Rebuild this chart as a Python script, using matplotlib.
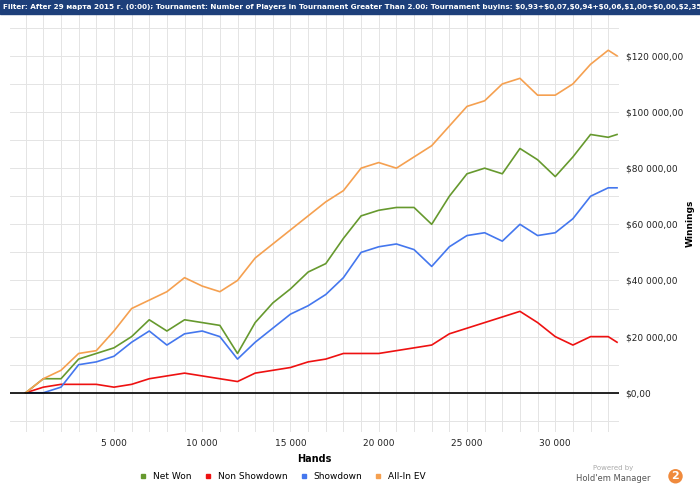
import matplotlib
matplotlib.use("Agg")
import matplotlib.pyplot as plt
from matplotlib.ticker import MultipleLocator, FuncFormatter
from matplotlib.lines import Line2D

hands = [0,1000,2000,3000,4000,5000,6000,7000,8000,9000,10000,11000,12000,13000,14000,15000,16000,17000,18000,19000,20000,21000,22000,23000,24000,25000,26000,27000,28000,29000,30000,31000,32000,33000,33500]
all_in_ev = [0,5,8,14,15,22,30,33,36,41,38,36,40,48,53,58,63,68,72,80,82,80,84,88,95,102,104,110,112,106,106,110,117,122,120]
net_won = [0,5,5,12,14,16,20,26,22,26,25,24,14,25,32,37,43,46,55,63,65,66,66,60,70,78,80,78,87,83,77,84,92,91,92]
showdown = [0,0,2,10,11,13,18,22,17,21,22,20,12,18,23,28,31,35,41,50,52,53,51,45,52,56,57,54,60,56,57,62,70,73,73]
non_showdown = [0,2,3,3,3,2,3,5,6,7,6,5,4,7,8,9,11,12,14,14,14,15,16,17,21,23,25,27,29,25,20,17,20,20,18]
x_ticks = [5000,10000,15000,20000,25000,30000]
y_ticks = [0,20000,40000,60000,80000,100000,120000]

fig = plt.figure(figsize=(7,4.91), dpi=100)
fig.patch.set_facecolor("white")
ax = fig.add_axes([0.014, 0.12, 0.87, 0.852])
k = lambda v: [x*1000 for x in v]
ax.plot(hands, k(non_showdown), color="#ee1111", lw=1.2, label="Non Showdown")
ax.plot(hands, k(showdown), color="#4477ee", lw=1.2, label="Showdown")
ax.plot(hands, k(net_won), color="#66992e", lw=1.2, label="Net Won")
ax.plot(hands, k(all_in_ev), color="#f5a050", lw=1.2, label="All-In EV")
ax.axhline(0, color="black", lw=1.2)
ax.set_xlim(-900, 33600)
ax.set_ylim(-14000, 135000)
ax.set_xticks(x_ticks)
ax.xaxis.set_major_formatter(FuncFormatter(lambda v,p: f"{int(v):,}".replace(",", " ")))
ax.set_yticks(y_ticks)
ax.yaxis.set_major_formatter(FuncFormatter(lambda v,p: "\\$" + f"{int(v):,}".replace(",", " ") + ",00"))
ax.xaxis.set_minor_locator(MultipleLocator(1000))
ax.yaxis.set_minor_locator(MultipleLocator(10000))
ax.grid(True, which="both", color="#e4e4e4", lw=0.7)
ax.yaxis.tick_right()
ax.yaxis.set_label_position("right")
ax.tick_params(which="both", length=0, labelsize=6.5, colors="#222222", pad=5)
for s in ax.spines.values():
    s.set_visible(False)
ax.set_xlabel("Hands", fontsize=7, fontweight="bold")
ax.set_ylabel("Winnings", fontsize=6.5, fontweight="bold", labelpad=2)
fig.patches.append(plt.Rectangle((0, 0.972), 1, 0.028, transform=fig.transFigure, color="#1d3f7a"))
fig.text(0.004, 0.986, r"Filter: After 29 марта 2015 г. (0:00); Tournament: Number of Players in Tournament Greater Than 2.00; Tournament buyins: \$0,93+\$0,07,\$0,94+\$0,06,\$1,00+\$0,00,\$2,35+\$0,15,\$2,40+\$0,1",
         color="white", fontsize=5.2, va="center", ha="left", fontweight="bold")
handles, labels = ax.get_legend_handles_labels()
order = [2,0,1,3]
hs = [Line2D([], [], marker="s", ls="", color=handles[i].get_color(), markersize=3.5) for i in order]
fig.legend(hs, [labels[i] for i in order], loc="center", bbox_to_anchor=(0.4, 0.03), ncol=4, frameon=False,
           fontsize=6.5, handletextpad=0.1, columnspacing=0.8)
fig.text(0.905, 0.042, "Powered by", fontsize=5, color="#aaaaaa", ha="right")
fig.text(0.93, 0.02, "Hold'em Manager", fontsize=6, color="#555555", ha="right")
fig.text(0.965, 0.03, "2", fontsize=8, color="white", fontweight="bold", ha="center", va="center",
         bbox=dict(boxstyle="circle,pad=0.2", fc="#f08a3c", ec="none"))
fig.savefig("out.png", dpi=100)
